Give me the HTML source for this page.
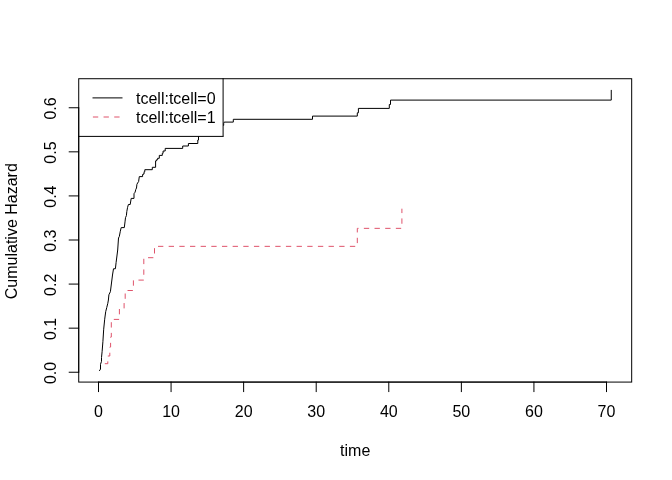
<!DOCTYPE html>
<html><head><meta charset="utf-8"><style>
html,body{margin:0;padding:0;background:#fff;}
svg{display:block;will-change:transform;}
text{font-family:"Liberation Sans",sans-serif;font-size:16px;fill:#000;}
</style></head><body>
<svg width="672" height="480" viewBox="0 0 672 480">
<rect x="0" y="0" width="672" height="480" fill="#fff"/>
<g fill="none" stroke="#000" stroke-width="1" stroke-linejoin="round" stroke-linecap="round">
<path d="M99.5,370.6 L100.5,369.1 V364.4 L101.5,361.3 V357.5 L102.1,351.7 L102.9,341.7 L103.0,340 L103.7,329.2 L104.7,319.2 L105.7,311.7 L106.75,307.5 L107.8,303.3 L108.4,300 L108.9,294.8 L110.4,291.7 L112.5,275 L113.5,268.75 H115.4 L116.1,262.5 L117.7,250 L118.5,238 L119.3,236.5 L120.3,231.25 L121.2,227.6 H124.3 L125,221.9 L125.5,217.7 L126.4,215.6 L126.8,211.5 L127.6,207.3 L128.4,204.5 H130.2 L131.2,198.4 H134 V193.7 L135.1,192.2 L135.8,189.4 L136.5,188 L136.9,184.4 L137.6,183 L138.6,181.6 L139.3,176.6 H142.6 V174.5 H143.4 V173.8 H144.1 V171.7 H144.8 V169.7 H152.3 V167.3 H155.6 V160.9 H156.4 V159.8 H157.6 V158.3 H159.3 V155.4 H162.3 V153.3 H163.1 V151 H165.2 V148.4 H182.7 V146 H188.4 V143.5 H197.8 V140 H198.5 V136 L200,130 H221 V125.3 H223.7 V123.3 L224.2,122.1 H233.3 V119.3 H312.5 V116.1 H357.3 V112.8 H358.4 V108.4 H389.3 V104.5 H390.5 V100.1 H611.25 V90.3"/>
</g>
<g fill="none" stroke="#DF536B" stroke-width="1" stroke-dasharray="5.33 5.33" stroke-linecap="butt">
<path d="M104.8,363.7 H107.8 V356 H109.8 V347 H110.6 V337 H111.3 V319.4 H119.4 V309 H124.1 V300 H125.2 V290.5 H133.4 V280.1 H143.8 V257.7 H154.5 V246.35 H357.3 V228.35 H401.9 V208.7"/>
</g>
<rect x="78.72" y="78.72" width="144.38" height="57.68" fill="#fff"/>
<g stroke="#000" stroke-width="1" fill="none" stroke-linecap="round">
<rect x="78.72" y="78.72" width="552.96" height="303.36"/>
<line x1="98.50" y1="382.08" x2="98.50" y2="391.68"/><line x1="171.07" y1="382.08" x2="171.07" y2="391.68"/><line x1="243.64" y1="382.08" x2="243.64" y2="391.68"/><line x1="316.21" y1="382.08" x2="316.21" y2="391.68"/><line x1="388.79" y1="382.08" x2="388.79" y2="391.68"/><line x1="461.36" y1="382.08" x2="461.36" y2="391.68"/><line x1="533.93" y1="382.08" x2="533.93" y2="391.68"/><line x1="606.50" y1="382.08" x2="606.50" y2="391.68"/><line x1="98.50" y1="382.08" x2="606.50" y2="382.08"/>
<line x1="78.72" y1="372.24" x2="69.12" y2="372.24"/><line x1="78.72" y1="328.16" x2="69.12" y2="328.16"/><line x1="78.72" y1="284.08" x2="69.12" y2="284.08"/><line x1="78.72" y1="240.00" x2="69.12" y2="240.00"/><line x1="78.72" y1="195.92" x2="69.12" y2="195.92"/><line x1="78.72" y1="151.84" x2="69.12" y2="151.84"/><line x1="78.72" y1="107.76" x2="69.12" y2="107.76"/><line x1="78.72" y1="372.24" x2="78.72" y2="107.76"/>
</g>
<text x="98.50" y="416.6" text-anchor="middle">0</text><text x="171.07" y="416.6" text-anchor="middle">10</text><text x="243.64" y="416.6" text-anchor="middle">20</text><text x="316.21" y="416.6" text-anchor="middle">30</text><text x="388.79" y="416.6" text-anchor="middle">40</text><text x="461.36" y="416.6" text-anchor="middle">50</text><text x="533.93" y="416.6" text-anchor="middle">60</text><text x="606.50" y="416.6" text-anchor="middle">70</text>
<text transform="translate(55.9,372.94) rotate(-90)" text-anchor="middle">0.0</text><text transform="translate(55.9,328.86) rotate(-90)" text-anchor="middle">0.1</text><text transform="translate(55.9,284.78) rotate(-90)" text-anchor="middle">0.2</text><text transform="translate(55.9,240.70) rotate(-90)" text-anchor="middle">0.3</text><text transform="translate(55.9,196.62) rotate(-90)" text-anchor="middle">0.4</text><text transform="translate(55.9,152.54) rotate(-90)" text-anchor="middle">0.5</text><text transform="translate(55.9,108.46) rotate(-90)" text-anchor="middle">0.6</text>
<text x="355.2" y="455.8" text-anchor="middle">time</text>
<text transform="translate(17.1,231.2) rotate(-90)" text-anchor="middle">Cumulative Hazard</text>
<g>
<line x1="223.1" y1="78.22" x2="223.1" y2="136.4" stroke="#000" stroke-width="1"/>
<line x1="78.22" y1="136.4" x2="223.6" y2="136.4" stroke="#000" stroke-width="1"/>
<line x1="92.5" y1="97.9" x2="122.5" y2="97.9" stroke="#000" stroke-width="1"/>
<line x1="92.9" y1="117" x2="122.5" y2="117" stroke="#DF536B" stroke-width="1" stroke-dasharray="5.33 5.33"/>
<text x="136" y="103.8">tcell:tcell=0</text>
<text x="136" y="122.6">tcell:tcell=1</text>
</g>
</svg>
</body></html>
